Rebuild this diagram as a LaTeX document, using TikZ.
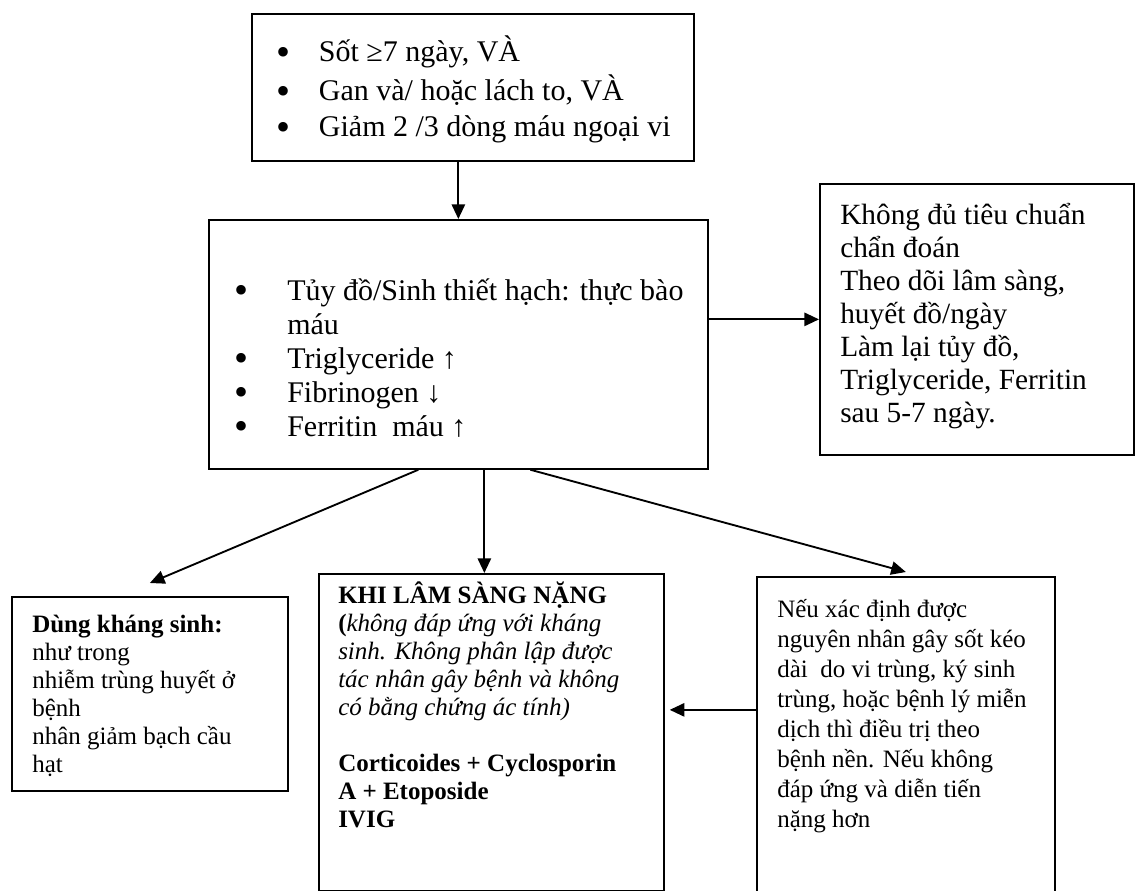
\documentclass[tikz,border=0pt]{standalone}
\usepackage{fontspec}
\setmainfont{Liberation Serif}
\usetikzlibrary{calc}
\usetikzlibrary{arrows.meta}
\newcommand{\itm}[1]{\makebox[#1][l]{\smash{\raisebox{-2.5pt}{\fontsize{30}{30}\selectfont •}}}}

\begin{document}
\begin{tikzpicture}[x=0.75pt,y=-0.75pt]
\tikzstyle{box}=[draw,line width=1.3pt,anchor=north west,inner sep=0pt]
\tikzstyle{txt}=[anchor=base west,align=left,inner sep=0pt]
\tikzstyle{arr}=[line width=1.4pt,-{Triangle[length=11pt,width=10pt]}]
\fill[white] (0,0) rectangle (1135,891);
\useasboundingbox (0,0) rectangle (1135,891);
\node[box,minimum width={442*0.75pt},minimum height={147*0.75pt}] (crit) at (251,13) {};
\node[box,minimum width={499*0.75pt},minimum height={249*0.75pt}] (lab) at (208,219) {};
\node[box,minimum width={314*0.75pt},minimum height={271*0.75pt}] (info) at (819,183) {};
\node[box,minimum width={276*0.75pt},minimum height={194*0.75pt}] (anti) at (11,596) {};
\node[box,minimum width={345*0.75pt},minimum height={317*0.75pt}] (sev) at (318,573) {};
\node[box,minimum width={298*0.75pt},minimum height={320*0.75pt}] (other) at (756,576) {};
\node[txt,font=\fontsize{22.5}{27}\selectfont] (critt) at (276,137)
  {\itm{32pt}Sốt ≥7 ngày, VÀ\\[2.25pt] \itm{32pt}Gan và/ hoặc lách to, VÀ\\ \itm{32pt}Giảm 2 /3 dòng máu ngoại vi};
\node[txt,font=\fontsize{22.5}{25.5}\selectfont] (labt) at (234,436)
  {\itm{39.75pt}Tủy đồ/Sinh thiết hạch: thực bào\\ \hspace*{39.75pt}máu\\ \itm{39.75pt}Triglyceride ↑\\
   \itm{39.75pt}Fibrinogen ↓\\ \itm{39.75pt}Ferritin\ \ máu ↑};
\node[txt,font=\fontsize{22}{24.75}\selectfont] (infot) at (840,422)
  {Không đủ tiêu chuẩn\\ chẩn đoán\\ Theo dõi lâm sàng,\\ huyết đồ/ngày\\ Làm lại tủy đồ,\\
   Triglyceride, Ferritin\\ sau 5-7 ngày.};
\node[txt,font=\fontsize{18.75}{21}\selectfont] (antit) at (32,772)
  {\textbf{Dùng kháng sinh:}\\ như trong\\ nhiễm trùng huyết ở\\ bệnh\\ nhân giảm bạch cầu\\ hạt};
\node[txt,font=\fontsize{18.75}{21}\selectfont] (sevt) at (338,827)
  {\textbf{KHI LÂM SÀNG NẶNG}\\ \textbf{(}\textit{không đáp ứng với kháng}\\ \textit{sinh. Không phân lập được}\\
   \textit{tác nhân gây bệnh và không}\\ \textit{có bằng chứng ác tính)}\\[21pt]
   \textbf{Corticoides + Cyclosporin}\\ \textbf{A + Etoposide}\\ \textbf{IVIG}};
\node[txt,font=\fontsize{18.75}{22.5}\selectfont] (othert) at (777,827)
  {Nếu xác định được\\ nguyên nhân gây sốt kéo\\ dài\ \ do vi trùng, ký sinh\\ trùng, hoặc bệnh lý miễn\\
   dịch thì điều trị theo\\ bệnh nền. Nếu không\\ đáp ứng và diễn tiến\\ nặng hơn};
\draw[arr] (lab.north |- crit.south) -- (lab.north);
\draw[arr] (lab.east |- info.west) -- (info.west);
\draw[arr] ($(lab.south)+(-40,0)$) -- ($(anti.north)+(0,-13)$);
\draw[arr] ($(lab.south)+(26,0)$) coordinate (c) -- (c |- sev.north);
\draw[arr] ($(lab.south)+(72,0)$) -- ($(other.north)+(0,-4)$);
\draw[arr] ($(other.west)+(0,-27)$) coordinate (d) -- ($(sev.east |- d)+(5,0)$);
\end{tikzpicture}
\end{document}
